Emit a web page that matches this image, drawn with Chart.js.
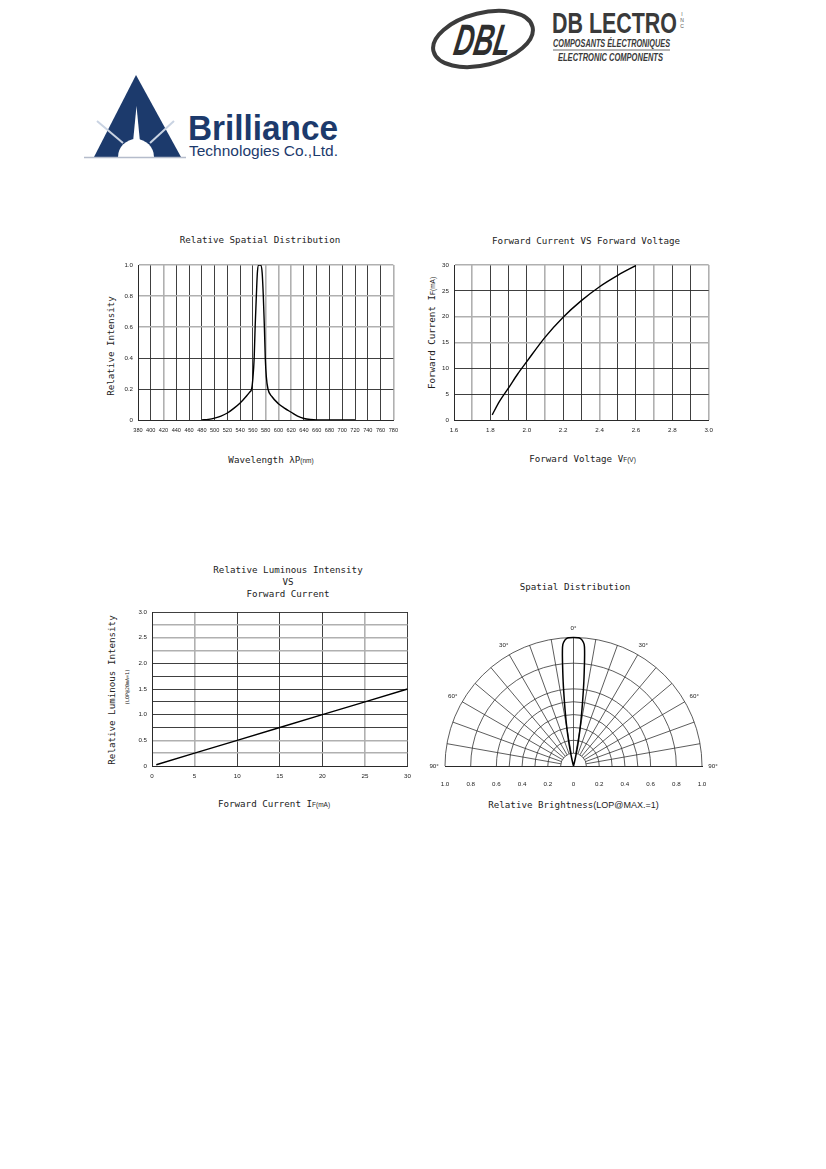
<!DOCTYPE html>
<html>
<head>
<meta charset="utf-8">
<script src="https://cdn.jsdelivr.net/npm/chart.js@4.4.0/dist/chart.umd.min.js"></script>
<style>
body { margin: 0; background: #fff; }
#page { position: relative; width: 826px; height: 1169px; overflow: hidden; background: #fff; }
canvas { position: absolute; }
svg { position: absolute; left: 0; top: 0; }
.t { position: absolute; font-family: 'DejaVu Sans Mono', monospace; font-size: 9.2px; color: #222;
     white-space: nowrap; transform: translate(-50%, -50%); line-height: 12px; text-align: center; }
.r { transform: translate(-50%, -50%) rotate(-90deg); }
.s { font-family: 'Liberation Sans', Arial, sans-serif; font-size: 6.5px; }
.b { font-family: 'Liberation Sans', Arial, sans-serif; font-size: 9px; }
</style>
</head>
<body>
<div id="page">

<svg width="826" height="170">
  <!-- DB Lectro -->
  <ellipse cx="483" cy="39" rx="51" ry="26" fill="none" stroke="#3c3c3c" stroke-width="4" transform="rotate(-14 483 39)"/>
  <text x="480" y="55" text-anchor="middle" font-family="'Liberation Sans',sans-serif" font-weight="bold" font-style="italic" font-size="44" fill="#2e2e2e" textLength="56" lengthAdjust="spacingAndGlyphs" transform="skewX(-10) translate(10 0)">DBL</text>
  <text x="552" y="33" font-family="'Liberation Sans Narrow','Liberation Sans',sans-serif" font-weight="bold" font-size="29" fill="#3a3a3a" textLength="125" lengthAdjust="spacingAndGlyphs">DB LECTRO</text>
  <text x="682" y="16" font-family="'Liberation Sans',sans-serif" font-size="5" fill="#555" text-anchor="middle">I</text>
  <text x="682" y="22" font-family="'Liberation Sans',sans-serif" font-size="5" fill="#555" text-anchor="middle">N</text>
  <text x="682" y="28" font-family="'Liberation Sans',sans-serif" font-size="5" fill="#555" text-anchor="middle">C</text>
  <text x="553" y="47" font-family="'Liberation Sans Narrow','Liberation Sans',sans-serif" font-weight="bold" font-style="italic" font-size="11" fill="#3a3a3a" textLength="117" lengthAdjust="spacingAndGlyphs">COMPOSANTS ÉLECTRONIQUES</text>
  <line x1="553" y1="50" x2="670" y2="50" stroke="#444" stroke-width="0.8"/>
  <text x="558" y="61" font-family="'Liberation Sans Narrow','Liberation Sans',sans-serif" font-weight="bold" font-style="italic" font-size="11" fill="#3a3a3a" textLength="105" lengthAdjust="spacingAndGlyphs">ELECTRONIC COMPONENTS</text>

  <!-- Brilliance -->
  <polygon points="136,75 94,157 181,157" fill="#1c3a6c"/>
  <line x1="123" y1="143" x2="97" y2="121" stroke="#c9d3e2" stroke-width="2"/>
  <line x1="150" y1="143" x2="174" y2="121" stroke="#c9d3e2" stroke-width="2"/>
  <polygon points="133,142 136.5,106 140,142" fill="#fff"/>
  <path d="M118,157 A18,18 0 0 1 154,157 Z" fill="#fff"/>
  <line x1="84" y1="157.5" x2="186" y2="157.5" stroke="#b5bccb" stroke-width="1.4"/>
  <text x="188" y="140" font-family="'Liberation Sans',Arial,sans-serif" font-weight="bold" font-size="35" fill="#1c3a6c" textLength="150" lengthAdjust="spacingAndGlyphs">Brilliance</text>
  <text x="189" y="156" font-family="'Liberation Sans',Arial,sans-serif" font-size="14" fill="#1c3a6c" textLength="149" lengthAdjust="spacingAndGlyphs">Technologies Co.,Ltd.</text>
</svg>

<!-- chart 1 texts -->
<div class="t" style="left:260px;top:239.5px">Relative Spatial Distribution</div>
<div class="t r" style="left:110.5px;top:345.5px">Relative Intensity</div>
<div class="t" style="left:271px;top:459.5px">Wavelength λP<span class="s">(nm)</span></div>

<!-- chart 2 texts -->
<div class="t" style="left:586px;top:241px">Forward Current VS Forward Voltage</div>
<div class="t r" style="left:431.5px;top:333px">Forward Current I<span class="s">F(mA)</span></div>
<div class="t" style="left:582.5px;top:458.5px">Forward Voltage V<span class="s">F(V)</span></div>

<!-- chart 3 texts -->
<div class="t" style="left:288px;top:581.5px">Relative Luminous Intensity<br>VS<br>Forward Current</div>
<div class="t r" style="left:111.5px;top:690px">Relative Luminous Intensity</div>
<div class="t r" style="left:126.5px;top:686.5px;font-size:5px">(LOP@20mA=1)</div>
<div class="t" style="left:274px;top:803.5px">Forward Current I<span class="s">F(mA)</span></div>

<!-- chart 4 texts -->
<div class="t" style="left:575px;top:586.5px">Spatial Distribution</div>
<div class="t" style="left:573.5px;top:805px">Relative Brightness<span class="b">(LOP@MAX.=1)</span></div>

<canvas id="c1" width="310" height="180" style="left:95px;top:255px"></canvas>
<canvas id="c2" width="305" height="180" style="left:415px;top:255px"></canvas>
<canvas id="c3" width="303" height="182" style="left:115px;top:600px"></canvas>
<canvas id="c4" width="300" height="180" style="left:425px;top:610px"></canvas>
</div>

<script>
// Relative spatial distribution (emission spectrum)
const wavelengthNm = [480, 490, 500, 510, 520, 530, 540, 550, 555, 558, 560, 562, 563.5, 565.4, 567, 569, 572, 574.5, 576.3, 578, 579.4, 581, 583.6, 590, 600, 610, 620, 630, 640, 650, 660, 720];
const relIntensity = [0, 0.004, 0.012, 0.025, 0.045, 0.075, 0.11, 0.155, 0.18, 0.2, 0.27, 0.4, 0.6, 0.8, 0.95, 1.0, 1.0, 0.95, 0.8, 0.6, 0.4, 0.28, 0.2, 0.15, 0.105, 0.075, 0.05, 0.025, 0.01, 0.003, 0, 0];

// Forward current vs forward voltage
const forwardVoltage = [1.81, 1.85, 1.9, 1.95, 2.0, 2.1, 2.2, 2.3, 2.4, 2.5, 2.6];
const forwardCurrent = [1.0, 3.6, 6.2, 8.9, 11.3, 16.0, 19.9, 23.1, 25.8, 28.0, 29.9];

// Relative luminous intensity vs forward current
const driveCurrent = [0.5, 5, 10, 15, 20, 25, 30];
const relLuminous = [0.025, 0.25, 0.5, 0.75, 1.0, 1.25, 1.5];

// Spatial distribution (polar)
const beamAngleDeg = [-15, -14, -13, -12, -11, -10, -9, -8, -7, -6, -5.5, -5, -4, -3, -2, 0, 2, 3, 4, 5, 5.5, 6, 7, 8, 9, 10, 11, 12, 13, 14, 15];
const beamBrightness = [0, 0.03, 0.07, 0.13, 0.2, 0.29, 0.39, 0.51, 0.66, 0.82, 0.9, 0.95, 0.98, 0.995, 0.998, 1.0, 0.998, 0.995, 0.98, 0.95, 0.9, 0.82, 0.66, 0.51, 0.39, 0.29, 0.2, 0.13, 0.07, 0.03, 0];
const ringRadii = [0.1, 0.2, 0.3, 0.4, 0.5, 0.6, 0.8, 1.0];
const spokeAnglesDeg = [-80, -70, -60, -50, -40, -30, -20, -10, 0, 10, 20, 30, 40, 50, 60, 70, 80];
const angleLabelDeg = [-90, -60, -30, 0, 30, 60, 90];

// grid lines that show up lighter/thicker in the print
const lightGrid = {
  c1x: [2, 10, 11, 12, 20], c1y: [3, 4, 5],
  c2x: [1, 5, 8, 11, 14], c2y: [3, 4, 6],
  c3x: [1, 5], c3y: [1, 2, 9, 10, 11],
};

Chart.defaults.animation = false;
Chart.defaults.plugins.legend.display = false;
Chart.defaults.plugins.tooltip.enabled = false;

const tickFont = { family: "'Liberation Sans Narrow','Liberation Sans',Arial,sans-serif", size: 6.2 };
const dark = '#2a2a2a';

function grid(light) {
  return {
    drawTicks: false,
    color: c => light.includes(c.index) ? '#b0b0b0' : dark,
    lineWidth: c => light.includes(c.index) ? 1.6 : 0.9,
  };
}

function xScale(min, max, step, light, height, cb, font) {
  return {
    type: 'linear', min, max,
    grid: grid(light),
    border: { color: dark, width: 1 },
    ticks: { stepSize: step, autoSkip: false, maxRotation: 0, padding: 7, font: font || tickFont, color: '#222', callback: cb },
    afterFit: s => { s.height = height; },
  };
}

function yScale(min, max, step, light, width, cb) {
  return {
    min, max,
    grid: grid(light),
    border: { color: dark, width: 1 },
    ticks: { stepSize: step, autoSkip: false, padding: 5, font: tickFont, color: '#222', callback: cb },
    afterFit: s => { s.width = width; },
  };
}

const dec1 = v => Math.abs(v) < 1e-9 ? '0' : Math.abs(v).toFixed(1);
const pts = (xs, ys) => xs.map((x, i) => ({ x, y: ys[i] }));

const lineSet = (data, extra) => Object.assign({
  data, showLine: true, borderColor: '#000', borderWidth: 1.4, pointRadius: 0, fill: false,
}, extra);

new Chart(document.getElementById('c1'), {
  type: 'scatter',
  data: { datasets: [lineSet(pts(wavelengthNm, relIntensity), { cubicInterpolationMode: 'monotone' })] },
  options: {
    responsive: false,
    layout: { padding: { left: 0, right: 9, top: 10, bottom: 0 } },
    scales: {
      x: xScale(380, 780, 20, lightGrid.c1x, 15, v => String(Math.round(v)), { family: tickFont.family, size: 5.6 }),
      y: yScale(0, 1, 0.2, lightGrid.c1y, 43, dec1),
    },
  },
});

new Chart(document.getElementById('c2'), {
  type: 'scatter',
  data: { datasets: [lineSet(pts(forwardVoltage, forwardCurrent), { cubicInterpolationMode: 'monotone' })] },
  options: {
    responsive: false,
    layout: { padding: { left: 0, right: 9, top: 10, bottom: 0 } },
    scales: {
      x: xScale(1.6, 3.0, 0.1, lightGrid.c2x, 15, v => {
        const k = Math.round(v * 10);
        return k % 2 === 0 ? (k / 10).toFixed(1) : '';
      }),
      y: yScale(0, 30, 5, lightGrid.c2y, 39, v => String(Math.round(v))),
    },
  },
});

new Chart(document.getElementById('c3'), {
  type: 'scatter',
  data: { datasets: [lineSet(pts(driveCurrent, relLuminous))] },
  options: {
    responsive: false,
    layout: { padding: { left: 0, right: 10, top: 12, bottom: 0 } },
    scales: {
      x: xScale(0, 30, 5, lightGrid.c3x, 16, v => String(Math.round(v))),
      y: yScale(0, 3, 0.25, lightGrid.c3y, 37, v => {
        const k = Math.round(v * 4);
        return k % 2 === 0 ? dec1(k / 4) : '';
      }),
    },
  },
});

// rings, spokes and angle labels of the half-polar plot, placed with the chart's own scales
const polarGrid = {
  id: 'polarGrid',
  beforeDatasetsDraw(chart) {
    const { ctx, scales: { x, y } } = chart;
    const cx = x.getPixelForValue(0);
    const cy = y.getPixelForValue(0);
    const unit = x.getPixelForValue(1) - cx;
    ctx.save();
    ctx.strokeStyle = '#333';
    ctx.lineWidth = 0.8;
    ringRadii.forEach(r => {
      ctx.beginPath();
      ctx.arc(cx, cy, r * unit, Math.PI, 2 * Math.PI);
      ctx.stroke();
    });
    spokeAnglesDeg.forEach(a => {
      const t = a * Math.PI / 180;
      ctx.beginPath();
      ctx.moveTo(cx + Math.sin(t) * ringRadii[0] * unit, cy - Math.cos(t) * ringRadii[0] * unit);
      ctx.lineTo(cx + Math.sin(t) * unit, cy - Math.cos(t) * unit);
      ctx.stroke();
    });
    ctx.fillStyle = '#222';
    ctx.font = "6.2px 'Liberation Sans', Arial, sans-serif";
    ctx.textAlign = 'center';
    ctx.textBaseline = 'middle';
    angleLabelDeg.forEach(a => {
      const t = a * Math.PI / 180;
      const rr = a === 0 ? 1.07 : 1.085;
      ctx.fillText(Math.abs(a) + '°', cx + Math.sin(t) * rr * unit, cy - Math.cos(t) * rr * unit);
    });
    ctx.restore();
  },
};

const lobe = beamAngleDeg.map((a, i) => {
  const t = a * Math.PI / 180;
  return { x: beamBrightness[i] * Math.sin(t), y: beamBrightness[i] * Math.cos(t) };
});

new Chart(document.getElementById('c4'), {
  type: 'scatter',
  data: { datasets: [lineSet(lobe, { clip: false, tension: 0.3, borderWidth: 1.5 })] },
  options: {
    responsive: false,
    layout: { padding: { left: 20, right: 23, top: 27.5, bottom: 0 } },
    scales: {
      x: {
        type: 'linear', min: -1, max: 1,
        grid: { display: false },
        border: { color: dark, width: 1 },
        ticks: { stepSize: 0.2, autoSkip: false, maxRotation: 0, padding: 7, font: tickFont, color: '#222', callback: dec1 },
        afterFit: s => { s.height = 24; },
      },
      y: { display: false, min: 0, max: 1 },
    },
  },
  plugins: [polarGrid],
});
</script>
</body>
</html>
